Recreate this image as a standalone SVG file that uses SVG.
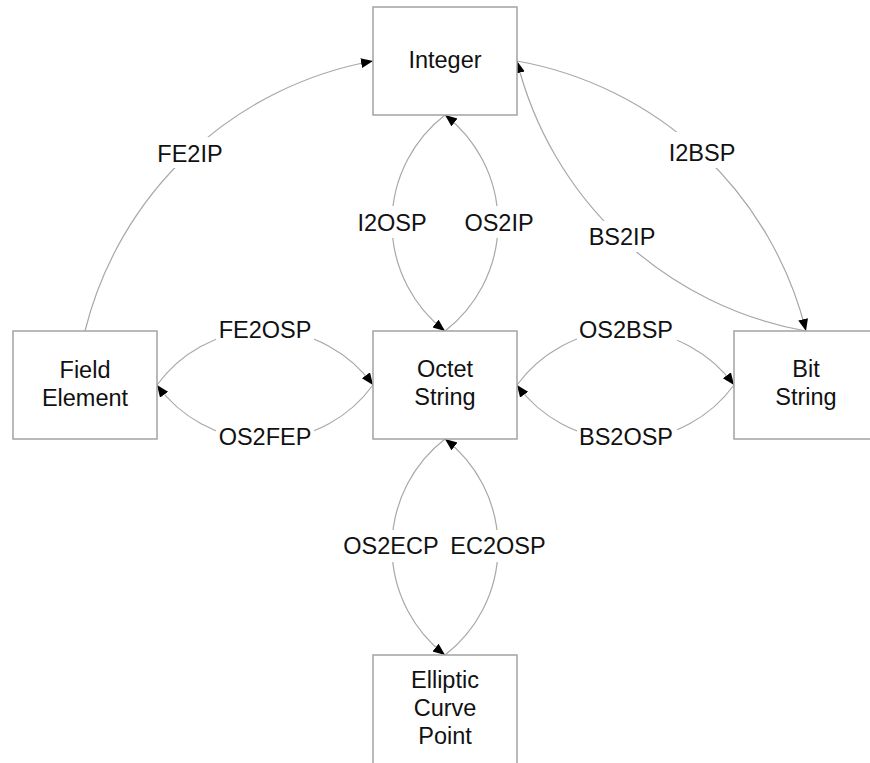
<svg xmlns="http://www.w3.org/2000/svg" width="870" height="763" viewBox="0 0 870 763">
<style>
.box{fill:#fff;stroke:#a3a3a3;stroke-width:1.5}
.t{font-family:"Liberation Sans",Arial,sans-serif;font-size:23.5px;fill:#111;text-anchor:middle}
.c{fill:none;stroke:#a8a8a8;stroke-width:1.2;marker-end:url(#ah)}
.bg{fill:#fff}
</style>
<defs>
<marker id="ah" markerUnits="userSpaceOnUse" markerWidth="14" markerHeight="12" refX="12" refY="5" orient="auto">
<path d="M0,0 L12,5 L0,10 z" fill="#000"/>
</marker>
</defs>
<rect width="870" height="763" fill="#fff"/>
<g id="connectors">
<path class="c" d="M85,331 A363.6,363.6 0 0 1 373,61"/>
<path class="c" d="M517,61 A363.6,363.6 0 0 1 806,331"/>
<path class="c" d="M806,331 A363.6,363.6 0 0 1 517,61"/>
<path class="c" d="M445,115 A136.5,136.5 0 0 0 445,331"/>
<path class="c" d="M445,331 A136.5,136.5 0 0 0 445,115"/>
<path class="c" d="M157,385 A133.5,133.5 0 0 1 373,385"/>
<path class="c" d="M373,385 A133.5,133.5 0 0 1 157,385"/>
<path class="c" d="M517,385 A134.5,134.5 0 0 1 734,385"/>
<path class="c" d="M734,385 A134.5,134.5 0 0 1 517,385"/>
<path class="c" d="M445,439 A136.5,136.5 0 0 0 445,655"/>
<path class="c" d="M445,655 A136.5,136.5 0 0 0 445,439"/>
<g id="labels">
<rect class="bg" x="154" y="137" width="72" height="31"/><text class="t" x="190" y="161.5">FE2IP</text>
<rect class="bg" x="665" y="132" width="74" height="36"/><text class="t" x="702" y="161">I2BSP</text>
<rect class="bg" x="585" y="221" width="74" height="31"/><text class="t" x="622" y="245">BS2IP</text>
<rect class="bg" x="354" y="206" width="76" height="32"/><text class="t" x="392" y="231">I2OSP</text>
<rect class="bg" x="461" y="206" width="76" height="32"/><text class="t" x="499" y="231">OS2IP</text>
<rect class="bg" x="216" y="313" width="98" height="30"/><text class="t" x="265" y="337.5">FE2OSP</text>
<rect class="bg" x="216" y="421" width="98" height="30"/><text class="t" x="265" y="445">OS2FEP</text>
<rect class="bg" x="577" y="313" width="100" height="30"/><text class="t" x="626" y="337.5">OS2BSP</text>
<rect class="bg" x="577" y="421" width="100" height="30"/><text class="t" x="626" y="445">BS2OSP</text>
<rect class="bg" x="343" y="530" width="97" height="32"/><text class="t" x="391" y="554">OS2ECP</text>
<rect class="bg" x="451" y="530" width="97" height="32"/><text class="t" x="498" y="554">EC2OSP</text>
</g>
</g>
<g id="integer"><rect class="box" x="373" y="7" width="144" height="108"/><text class="t" x="445" y="68">Integer</text></g>
<g id="field-element"><rect class="box" x="13" y="331" width="144" height="108"/><text class="t" x="85" y="378">Field</text><text class="t" x="85" y="406">Element</text></g>
<g id="octet-string"><rect class="box" x="373" y="331" width="144" height="108"/><text class="t" x="445" y="377">Octet</text><text class="t" x="445" y="405">String</text></g>
<g id="bit-string"><rect class="box" x="734" y="331" width="144" height="108"/><text class="t" x="806" y="377">Bit</text><text class="t" x="806" y="405">String</text></g>
<g id="elliptic-curve-point"><rect class="box" x="373" y="655" width="144" height="115"/><text class="t" x="445" y="688">Elliptic</text><text class="t" x="445" y="716">Curve</text><text class="t" x="445" y="744">Point</text></g>
</svg>
